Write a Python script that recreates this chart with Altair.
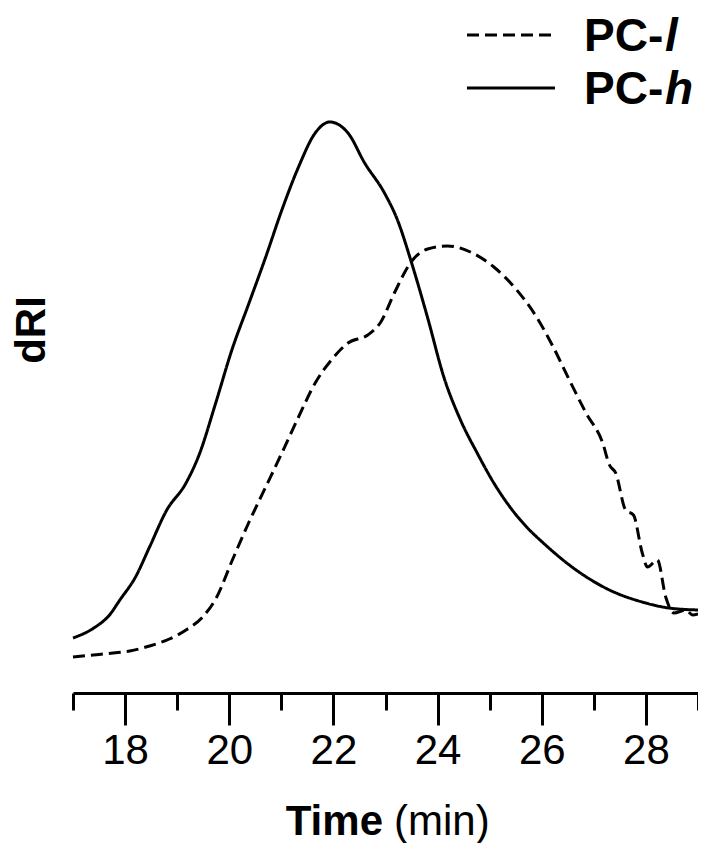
import altair as alt
import pandas as pd

# PC-h (solid) : elution time (min) and dRI signal (arbitrary units)
h_time = [17.0, 17.4, 17.7, 17.9, 18.2, 18.47, 18.79, 19.17, 19.42, 19.74, 20.05, 20.38,
          20.70, 21.01, 21.33, 21.65, 21.93, 22.28, 22.60, 22.98, 23.23, 23.49, 23.81,
          24.12, 24.44, 24.76, 25.08, 25.39, 25.71, 26.03, 26.66, 27.30, 27.93, 28.44, 29.0]
h_dri = [5.5, 6.5, 7.8, 9.3, 11.6, 14.6, 18.2, 21.0, 23.8, 29.0, 34.3, 39.0,
         43.6, 48.3, 52.6, 56.0, 57.1, 56.0, 53.0, 50.0, 47.3, 43.2, 37.5,
         31.6, 27.3, 24.0, 21.0, 18.6, 16.6, 15.0, 12.3, 10.3, 9.1, 8.5, 8.3]

# PC-l (dashed)
l_time = [17.0, 17.39, 17.77, 18.09, 18.47, 18.85, 19.17, 19.49, 19.75, 20.06, 20.38,
          20.70, 21.01, 21.33, 21.65, 21.96, 22.28, 22.66, 22.91, 23.17, 23.49, 23.81,
          24.19, 24.63, 25.08, 25.52, 25.90, 26.22, 26.53, 26.85, 27.17, 27.30, 27.42,
          27.61, 27.76, 27.93, 28.03, 28.22, 28.38, 28.54, 28.76, 28.9, 29.0]
l_dri = [3.6, 3.8, 4.0, 4.2, 4.7, 5.4, 6.3, 7.6, 9.5, 13.3, 17.1,
         20.6, 24.0, 27.6, 31.0, 33.3, 35.0, 35.8, 37.1, 40.0, 43.1, 44.4,
         44.7, 44.1, 42.6, 40.3, 37.6, 34.6, 31.3, 28.0, 25.0, 22.8, 22.0,
         18.3, 17.8, 14.0, 12.6, 13.3, 9.6, 8.0, 8.3, 7.8, 7.9]

series_names = ["PC-l", "PC-h"]
legend_prefix = "PC-"
legend_suffix = ["l", "h"]
x_ticks = list(range(17, 30))
x_title_bold = "Time"
x_title_unit = "(min)"
y_title = "dRI"

df = pd.concat([
    pd.DataFrame({"time": l_time, "dri": l_dri, "series": series_names[0]}),
    pd.DataFrame({"time": h_time, "dri": h_dri, "series": series_names[1]}),
])

FONT = "Liberation Sans"
one = alt.Data(values=[{}])

x = alt.X(
    "time:Q",
    scale=alt.Scale(domain=[17, 29], nice=False, zero=False),
    axis=alt.Axis(
        values=x_ticks, title=None, grid=False,
        domainColor="black", domainWidth=3,
        tickColor="black", tickWidth=3,
        tickSize={"condition": {"test": "datum.value % 2 === 0", "value": 32}, "value": 17},
        labelExpr="datum.value % 2 === 0 ? datum.label : ''",
        labelFont=FONT, labelFontSize=42, labelColor="black",
        labelPadding=5, labelFlush=False, labelOverlap=False,
    ),
)
y = alt.Y("dri:Q", scale=alt.Scale(domain=[0, 68], nice=False), axis=None)

lines = alt.Chart(df).mark_line(strokeWidth=3, color="black", interpolate="monotone").encode(
    x=x, y=y,
    strokeDash=alt.StrokeDash("series:N", scale=alt.Scale(domain=series_names, range=[[12, 6], [1, 0]]), legend=None),
    detail="series:N",
)

leg_dash = alt.Chart(one).mark_rule(strokeWidth=3, color="black", strokeDash=[12, 6]).encode(
    x=alt.value(394), x2=alt.value(482), y=alt.value(22))
leg_solid = alt.Chart(one).mark_rule(strokeWidth=3, color="black").encode(
    x=alt.value(394), x2=alt.value(482), y=alt.value(75))

def txt(s, xv, yv, size=40, weight="bold", style="normal", align="left", baseline="middle", angle=0):
    return alt.Chart(one).mark_text(text=s, font=FONT, fontSize=size, fontWeight=weight, fontStyle=style,
                                    align=align, baseline=baseline, angle=angle, color="black").encode(
        x=alt.value(xv), y=alt.value(yv))

layers = [
    lines, leg_dash, leg_solid,
    txt(legend_prefix, 511, 24, size=46), txt(legend_suffix[0], 592, 24, size=46, style="italic"),
    txt(legend_prefix, 511, 77, size=46), txt(legend_suffix[1], 592, 77, size=46, style="italic"),
    txt(y_title, -41, 317, size=42, angle=270, align="center"),
    txt(x_title_bold, 310, 822, size=42, align="right", baseline="alphabetic"),
    txt(x_title_unit, 321, 822, size=42, weight="normal", baseline="alphabetic"),
]

chart = alt.layer(*layers).properties(
    width=625, height=680,
    autosize=alt.AutoSizeParams(type="none"),
    padding={"left": 65, "top": 5, "right": 0, "bottom": 150},
).configure_view(stroke=None)

chart.save("out.html", embed_options={"renderer": "svg", "actions": False})
